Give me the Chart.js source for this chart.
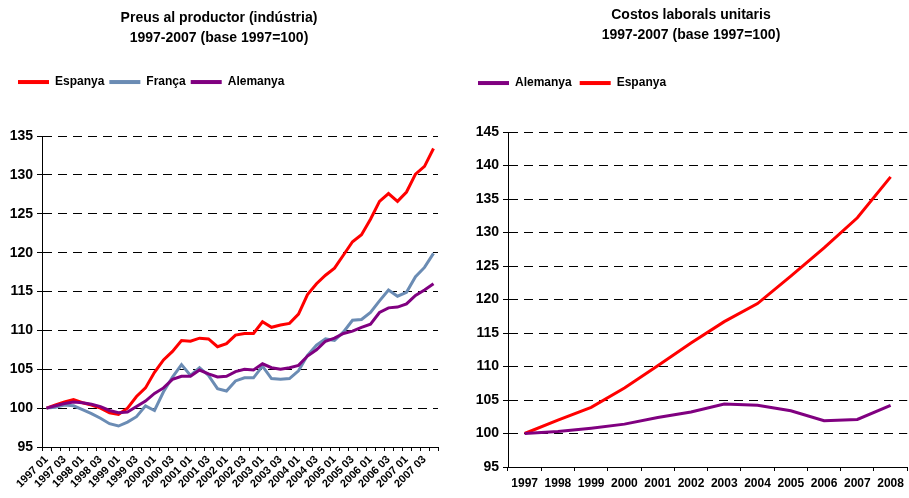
<!DOCTYPE html>
<html lang="ca">
<head>
    <meta charset="UTF-8">
    <title>Preus al productor i costos laborals unitaris</title>
    <script src="https://cdn.jsdelivr.net/npm/chart.js"></script>
    <style>
        body {
            margin: 0;
            background: #fff;
            font-family: Arial, "Liberation Sans", sans-serif;
        }
        .panel {
            position: absolute;
            top: 0;
            height: 498px;
        }
        #leftPanel { left: 0; width: 450px; }
        #rightPanel { left: 450px; width: 459px; }
    </style>
</head>
<body>
    <div class="panel" id="leftPanel"><canvas id="preusChart"></canvas></div>
    <div class="panel" id="rightPanel"><canvas id="costosChart"></canvas></div>

    <script>
        // --- Preus al productor (quarterly, 1997 01 .. 2007 04) ---
        const years = ["1997", "1998", "1999", "2000", "2001", "2002", "2003", "2004", "2005", "2006", "2007"];
        const quarters = ["01", "02", "03", "04"];
        const quarterLabels = [];
        years.forEach(y => quarters.forEach(q => quarterLabels.push(y + " " + q)));

        const preusEspanya = [
            100.0, 100.4, 100.8, 101.1, 100.7, 100.4, 100.0, 99.4, 99.2, 100.0, 101.5,
            102.6, 104.6, 106.2, 107.3, 108.7, 108.6, 109.0, 108.9, 107.9, 108.3, 109.4,
            109.6, 109.6, 111.1, 110.4, 110.7, 110.9, 112.1, 114.6, 116.0, 117.1, 118.0,
            119.7, 121.4, 122.3, 124.3, 126.6, 127.6, 126.6, 127.8, 130.1, 131.1, 133.4
        ];
        const preusFranca = [
            100.0, 100.1, 100.4, 100.3, 99.8, 99.3, 98.7, 98.0, 97.7, 98.2, 98.9,
            100.3, 99.7, 102.1, 104.0, 105.6, 104.2, 105.2, 104.2, 102.5, 102.2, 103.5,
            103.9, 103.9, 105.4, 103.8, 103.7, 103.8, 104.8, 106.8, 108.1, 108.9, 108.7,
            109.8, 111.3, 111.4, 112.3, 113.8, 115.2, 114.4, 114.9, 116.9, 118.1, 119.9
        ];
        const preusAlemanya = [
            100.0, 100.3, 100.6, 100.8, 100.7, 100.5, 100.2, 99.7, 99.4, 99.5, 100.2,
            100.9, 101.9, 102.6, 103.7, 104.1, 104.1, 104.9, 104.4, 104.0, 104.1, 104.7,
            105.0, 104.9, 105.7, 105.2, 105.0, 105.2, 105.5, 106.7, 107.5, 108.6, 109.0,
            109.6, 109.9, 110.4, 110.8, 112.3, 112.9, 113.0, 113.4, 114.5, 115.2, 116.0
        ];

        // --- Costos laborals unitaris (annual) ---
        const costYears = ["1997", "1998", "1999", "2000", "2001", "2002", "2003", "2004", "2005", "2006", "2007", "2008"];
        const costAlemanya = [100.0, 100.3, 100.8, 101.4, 102.4, 103.2, 104.4, 104.2, 103.4, 101.9, 102.1, 104.2];
        const costEspanya = [100.0, 102.0, 103.9, 106.8, 110.1, 113.5, 116.7, 119.4, 123.5, 127.7, 132.2, 138.3];

        const RED = "#ff0000";
        const BLUE = "#6b8cb4";
        const PURPLE = "#800080";

        // pushes the plot down below the legend and nudges the legend sideways
        const legendGap = {
            id: "legendGap",
            beforeInit(chart, args, opts) {
                const legend = chart.legend;
                const fit = legend.fit;
                legend.fit = function () {
                    fit.call(this);
                    this.height += opts.extra;
                };
            },
            afterLayout(chart, args, opts) {
                chart.legend.left += opts.shift;
            }
        };

        const boldFont = size => ({ family: "Arial", size: size, weight: "bold" });

        function legendLabels(chart) {
            const items = Chart.defaults.plugins.legend.labels.generateLabels(chart);
            items.forEach(it => { it.lineWidth = 0; });
            return items;
        }

        function makeLine(label, data, color, order) {
            return {
                label: label,
                data: data,
                borderColor: color,
                backgroundColor: color,
                borderWidth: 3,
                pointRadius: 0,
                tension: 0,
                order: order
            };
        }

        function yScale(min, max, width) {
            return {
                min: min,
                max: max,
                afterFit: s => { s.width = width; },
                ticks: { stepSize: 5, color: "#000", font: boldFont(14), padding: 4 },
                grid: { color: "#000", lineWidth: 1, tickLength: 5 },
                border: { display: true, color: "#000", width: 1, dash: [9, 6] }
            };
        }

        const titleFont = { family: "Arial", size: 14, weight: "bold", lineHeight: 1.43 };

        Chart.defaults.animation = false;

        new Chart(document.getElementById("preusChart"), {
            type: "line",
            data: {
                labels: quarterLabels,
                datasets: [
                    makeLine("Espanya", preusEspanya, RED, 2),
                    makeLine("França", preusFranca, BLUE, 1),
                    makeLine("Alemanya", preusAlemanya, PURPLE, 0)
                ]
            },
            options: {
                responsive: true,
                maintainAspectRatio: false,
                layout: { padding: { left: 0, right: 12, top: 0, bottom: 0 } },
                plugins: {
                    title: {
                        display: true,
                        text: ["Preus al productor (indústria)", "1997-2007 (base 1997=100)"],
                        color: "#000",
                        font: titleFont,
                        padding: { top: 8, bottom: 23 }
                    },
                    legend: {
                        position: "top",
                        align: "start",
                        labels: {
                            boxWidth: 31,
                            boxHeight: 4,
                            padding: 5,
                            color: "#000",
                            font: boldFont(12),
                            generateLabels: legendLabels,
                            sort: (a, b) => a.datasetIndex - b.datasetIndex
                        }
                    },
                    legendGap: { extra: 38, shift: 13 },
                    tooltip: { enabled: false }
                },
                scales: {
                    x: {
                        offset: true,
                        afterFit: s => { s.height = 51; },
                        ticks: {
                            autoSkip: false,
                            minRotation: 45,
                            maxRotation: 45,
                            padding: 2,
                            color: "#000",
                            font: boldFont(11),
                            callback: function (value, index) {
                                return index % 2 === 0 ? this.getLabelForValue(value) : "";
                            }
                        },
                        grid: { offset: true, drawOnChartArea: false, color: "#000", tickLength: 4 },
                        border: { display: true, color: "#000", width: 1 }
                    },
                    y: yScale(95, 135, 42)
                }
            },
            plugins: [legendGap]
        });

        new Chart(document.getElementById("costosChart"), {
            type: "line",
            data: {
                labels: costYears,
                datasets: [
                    makeLine("Alemanya", costAlemanya, PURPLE, 0),
                    makeLine("Espanya", costEspanya, RED, 1)
                ]
            },
            options: {
                responsive: true,
                maintainAspectRatio: false,
                layout: { padding: { left: 24, right: 1, top: 0, bottom: 0 } },
                plugins: {
                    title: {
                        display: true,
                        text: ["Costos laborals unitaris", "1997-2007 (base 1997=100)"],
                        color: "#000",
                        font: titleFont,
                        padding: { top: 5, bottom: 24 }
                    },
                    legend: {
                        position: "top",
                        align: "start",
                        labels: {
                            boxWidth: 31,
                            boxHeight: 4,
                            padding: 8,
                            color: "#000",
                            font: boldFont(12),
                            generateLabels: legendLabels,
                            sort: (a, b) => a.datasetIndex - b.datasetIndex
                        }
                    },
                    legendGap: { extra: 33, shift: -4 },
                    tooltip: { enabled: false }
                },
                scales: {
                    x: {
                        offset: true,
                        afterFit: s => { s.height = 31; },
                        ticks: {
                            autoSkip: false,
                            maxRotation: 0,
                            padding: 5,
                            color: "#000",
                            font: boldFont(12)
                        },
                        grid: { offset: true, drawOnChartArea: false, color: "#000", tickLength: 4 },
                        border: { display: true, color: "#000", width: 1 }
                    },
                    y: yScale(95, 145, 34)
                }
            },
            plugins: [legendGap]
        });
    </script>
</body>
</html>
